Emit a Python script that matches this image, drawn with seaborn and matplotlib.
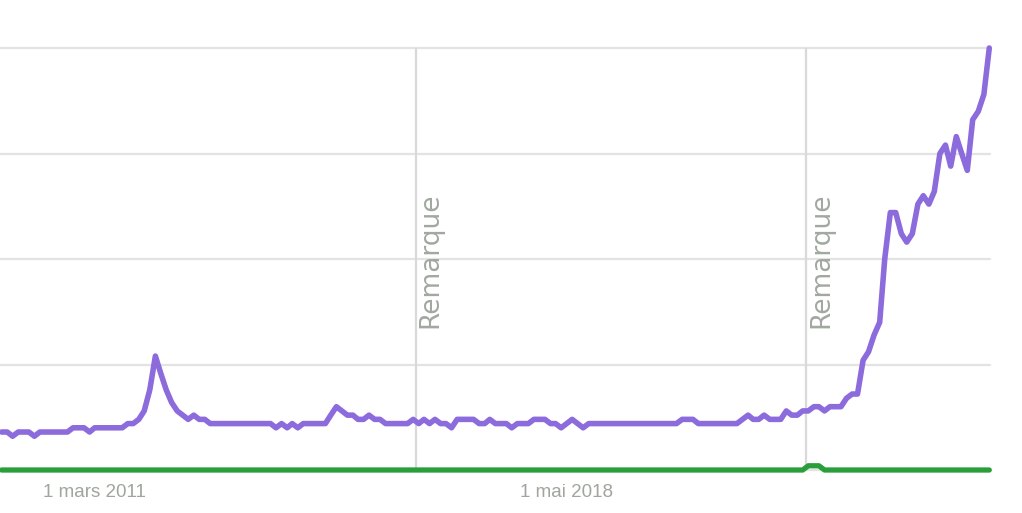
import numpy as np
import pandas as pd
import matplotlib
matplotlib.use("Agg")
import matplotlib.pyplot as plt
import seaborn as sns

# monthly interest values (Google Trends style, 0-100)
months = pd.date_range("2009-10-01", periods=181, freq="MS")
purple_vals = [
    9, 9, 8, 9, 9, 9, 8, 9, 9, 9,
    9, 9, 9, 10, 10, 10, 9, 10, 10, 10,
    10, 10, 10, 11, 11, 12, 14, 19, 27, 23,
    19, 16, 14, 13, 12, 13, 12, 12, 11, 11,
    11, 11, 11, 11, 11, 11, 11, 11, 11, 11,
    10, 11, 10, 11, 10, 11, 11, 11, 11, 11,
    13, 15, 14, 13, 13, 12, 12, 13, 12, 12,
    11, 11, 11, 11, 11, 12, 11, 12, 11, 12,
    11, 11, 10, 12, 12, 12, 12, 11, 11, 12,
    11, 11, 11, 10, 11, 11, 11, 12, 12, 12,
    11, 11, 10, 11, 12, 11, 10, 11, 11, 11,
    11, 11, 11, 11, 11, 11, 11, 11, 11, 11,
    11, 11, 11, 11, 12, 12, 12, 11, 11, 11,
    11, 11, 11, 11, 11, 12, 13, 12, 12, 13,
    12, 12, 12, 14, 13, 13, 14, 14, 15, 15,
    14, 15, 15, 15, 17, 18, 18, 26, 28, 32,
    35, 50, 61, 61, 56, 54, 56, 63, 65, 63,
    66, 75, 77, 72, 79, 75, 71, 83, 85, 89, 100,
]
green_vals = [0] * 181
green_vals[147] = 1
green_vals[148] = 1
green_vals[149] = 1

note_dates = ["2016-01-15", "2021-12-20"]
note_text = "Remarque"
tick_dates = ["2011-03-01", "2018-05-01"]
tick_labels = ["1 mars 2011", "1 mai 2018"]
grid_levels = [0, 25, 50, 75, 100]

df = pd.DataFrame({"date": months, "purple": purple_vals, "green": green_vals})

sns.set_theme(style="white")
plt.rcParams["font.family"] = ["Liberation Sans", "DejaVu Sans"]

fig = plt.figure(figsize=(10.22, 5.13), dpi=100)
ax = fig.add_axes([0.0, 43 / 513, 990 / 1022, 422 / 513])

for g in grid_levels:
    ax.axhline(g, color="#e3e3e3", lw=1.6, zorder=0, clip_on=False)
for d in note_dates:
    ax.axvline(pd.Timestamp(d), color="#d9d9d9", lw=1.6, zorder=0)
    ax.annotate(note_text, xy=(pd.Timestamp(d), 33.6), xytext=(1.5, 0),
                textcoords="offset points", rotation=90, ha="left", va="bottom",
                color="#a0a89f", fontsize=19, family="DejaVu Sans")

sns.lineplot(data=df, x="date", y="green", color="#2a9e3a", lw=3.8, ax=ax,
             zorder=3, clip_on=False)
sns.lineplot(data=df, x="date", y="purple", color="#8c6bdc", lw=4.0, ax=ax,
             zorder=4, clip_on=False)

ax.set_xlim(months[0] - pd.Timedelta(days=9), months[-1] + pd.Timedelta(days=4))
ax.set_ylim(0, 100)
ax.set_xticks([pd.Timestamp(t) for t in tick_dates])
ax.set_xticklabels(tick_labels, color="#a0a59d", fontsize=13.5)
ax.tick_params(axis="x", length=0, pad=10)
ax.set_yticks([])
ax.set_xlabel("")
ax.set_ylabel("")
for s in ax.spines.values():
    s.set_visible(False)

fig.savefig("out.png", dpi=100)
